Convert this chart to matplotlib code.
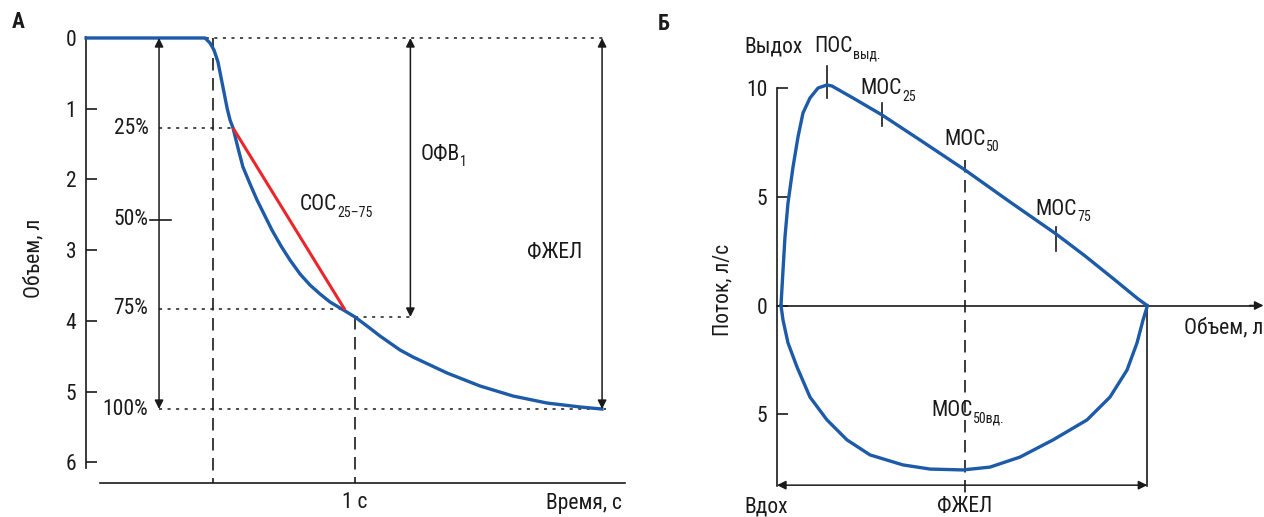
import matplotlib
matplotlib.use("Agg")
import matplotlib.pyplot as plt
from matplotlib import font_manager

# --- font: look for any narrow / condensed sans to stand in for the original face
CONDENSED = ("condensed", "semi-condensed", "extra-condensed", "ultra-condensed")
found = []
for f in font_manager.fontManager.ttflist:
    fn = f.fname.lower()
    if f.stretch in CONDENSED or "condensed" in fn or "narrow" in fn:
        found.append(f)
prefer = ["Roboto", "Liberation", "Noto Sans", "Open Sans", "DejaVu"]
found.sort(key=lambda f: next((i for i, p in enumerate(prefer) if p in f.name), 99))
if found:
    FONT, STRETCH = found[0].name, found[0].stretch
else:
    FONT, STRETCH = "DejaVu Sans", "normal"
plt.rcParams["font.family"] = [FONT, "DejaVu Sans"]
plt.rcParams["font.stretch"] = STRETCH

BLUE = "#1d5aa8"
RED = "#e8262b"
INK = "#1a1a1a"

# --- panel A: volume-time curve (time, s; volume, l)
time_s = [-0.894, -0.056, -0.021, 0.007, 0.035, 0.056, 0.077, 0.099, 0.120, 0.141,
          0.176, 0.211, 0.261, 0.310, 0.366, 0.415, 0.479, 0.542, 0.613, 0.683,
          0.754, 0.824, 0.930, 1.0, 1.085, 1.176, 1.317, 1.408, 1.648, 1.880,
          2.113, 2.352, 2.585, 2.739]
volume_l = [0.0, 0.0, 0.071, 0.170, 0.339, 0.552, 0.764, 0.990, 1.160, 1.273,
            1.556, 1.825, 2.065, 2.291, 2.518, 2.716, 2.942, 3.140, 3.338, 3.494,
            3.621, 3.734, 3.861, 3.946, 4.074, 4.215, 4.413, 4.512, 4.738, 4.922,
            5.064, 5.163, 5.219, 5.248]
fvc_a = 5.248
fev1 = 3.946
pct_levels = [1.273, 2.574, 3.833, 5.248]
pct_labels = ["25%", "50%", "75%", "100%"]
fef_start = (0.141, 1.273)
fef_end = (0.930, 3.847)
vol_ticks = [0, 1, 2, 3, 4, 5, 6]

# --- panel B: flow-volume loop (volume, l; flow, l/s, inspiration negative)
exp_vol = [0.057, 0.086, 0.114, 0.157, 0.229, 0.300, 0.371, 0.471, 0.586, 0.714,
           0.786, 1.086, 1.500, 2.043, 2.686, 3.329, 3.986, 4.400, 4.829, 5.143, 5.286]
exp_flow = [0.0, 1.63, 3.15, 4.71, 6.37, 7.75, 8.85, 9.54, 10.0, 10.14,
            10.09, 9.54, 8.76, 7.61, 6.23, 4.76, 3.29, 2.28, 1.17, 0.34, 0.0]
insp_vol = [5.286, 5.286, 5.229, 5.143, 5.0, 4.757, 4.429, 3.943, 3.471, 3.043,
            2.657, 2.186, 1.800, 1.329, 1.0, 0.714, 0.471, 0.286, 0.157, 0.086, 0.057]
insp_flow = [0.0, -0.07, -0.67, -1.72, -2.97, -4.21, -5.26, -6.18, -6.97, -7.43,
             -7.56, -7.52, -7.33, -6.87, -6.18, -5.26, -4.21, -2.83, -1.72, -0.67, 0.0]
fvc_b = 5.29
pef_vol = 0.714
mef25_vol = 1.50
mef50_vol = 2.686
mef75_vol = 3.986
flow_ticks = [-5, 0, 5, 10]
flow_labels = ["5", "0", "5", "10"]

W, H = 1264, 517
fig = plt.figure(figsize=(W / 100, H / 100), dpi=100)

FS = 15.5
SUB = 10
DOT = (0, (2, 3.6))
DASH = (0, (7.5, 4.5))


def sub_label(ax, x, y, main, sub, ha="left"):
    t = ax.text(x, y, main, fontsize=FS, ha=ha, va="center", color=INK)
    ax.annotate(sub, xy=(1, 0), xycoords=t, xytext=(0.5, -3),
                textcoords="offset points", fontsize=SUB, ha="left",
                va="bottom", color=INK)
    return t


def arrow(ax, x0, y0, x1, y1, style="<|-|>"):
    ax.annotate("", xy=(x1, y1), xytext=(x0, y0),
                arrowprops=dict(arrowstyle=style, lw=1.1, color=INK,
                                mutation_scale=13, shrinkA=0, shrinkB=0))


# ================= panel A =================
axA = fig.add_axes([0, 0, 640 / W, 1])
axA.set_xlim(-213 / 142, (640 - 213) / 142)
axA.set_ylim((517 - 38) / 70.7, -38 / 70.7)
axA.patch.set_alpha(0)
for s in ["top", "right"]:
    axA.spines[s].set_visible(False)
axA.spines["left"].set_position(("data", -0.894))
axA.spines["left"].set_bounds(6.08, -0.02)
axA.spines["bottom"].set_position(("data", 6.29))
axA.spines["bottom"].set_bounds(-0.796, 2.9)
for s in ["left", "bottom"]:
    axA.spines[s].set_linewidth(1.2)
    axA.spines[s].set_color(INK)
axA.set_yticks(vol_ticks)
axA.set_yticklabels([str(v) for v in vol_ticks])
axA.tick_params(axis="y", direction="in", length=8, width=1.2, pad=7,
                labelsize=FS, colors=INK)
axA.set_xticks([1])
axA.set_xticklabels(["1 с"])
axA.tick_params(axis="x", length=0, pad=7, labelsize=FS, colors=INK)

# dotted guides
axA.plot([-0.894, 2.77], [0, 0], ls=DOT, lw=1.1, color=INK)
axA.plot([-0.38, fef_start[0]], [pct_levels[0]] * 2, ls=DOT, lw=1.1, color=INK)
axA.plot([-0.38, fef_end[0]], [pct_levels[2]] * 2, ls=DOT, lw=1.1, color=INK)
axA.plot([-0.38, 2.77], [pct_levels[3]] * 2, ls=DOT, lw=1.1, color=INK)
axA.plot([1.0, 1.42], [fev1, fev1], ls=DOT, lw=1.1, color=INK)
# dashed verticals at start and at 1 s
axA.plot([0, 0], [0, 6.29], ls=DASH, lw=1.2, color=INK)
axA.plot([1, 1], [fev1, 6.29], ls=DASH, lw=1.2, color=INK)

axA.plot(time_s, volume_l, color=BLUE, lw=2.4, solid_joinstyle="round", zorder=3)
axA.plot([fef_start[0], fef_end[0]], [fef_start[1], fef_end[1]], color=RED,
         lw=2.2, solid_capstyle="butt", zorder=4)

# arrows
arrow(axA, -0.38, 0, -0.38, fvc_a)
axA.plot([-0.445, -0.295], [pct_levels[1]] * 2, lw=1.2, color=INK)
arrow(axA, 1.39, 0, 1.39, fev1)
arrow(axA, 2.74, 0, 2.74, fvc_a)

for lv, lb in zip(pct_levels, pct_labels):
    axA.text(-0.455, lv, lb, fontsize=FS, ha="right", va="center", color=INK)

sub_label(axA, 0.61, 2.36, "СОС", "25–75")
sub_label(axA, 1.46, 1.65, "ОФВ", "1")
axA.text(2.21, 3.03, "ФЖЕЛ", fontsize=FS, ha="left", va="center", color=INK)
axA.text(2.88, 6.58, "Время, с", fontsize=FS, ha="right", va="center", color=INK)
axA.text(-1.42, -0.22, "А", fontsize=FS, ha="left", va="center",
         color=INK, fontweight="bold")
axA.set_ylabel("Объем, л", fontsize=FS, color=INK)
axA.yaxis.set_label_coords(44 / 640, 0.5)

# ================= panel B =================
axB = fig.add_axes([640 / W, 0, 624 / W, 1])
axB.set_xlim((640 - 777) / 70, (1264 - 777) / 70)
axB.set_ylim((305.5 - 517) / 21.75, 305.5 / 21.75)
axB.patch.set_alpha(0)
for s in ["top", "right"]:
    axB.spines[s].set_visible(False)
axB.spines["left"].set_position(("data", 0))
axB.spines["left"].set_bounds(-8.3, 10.0)
axB.spines["bottom"].set_position(("data", 0))
axB.spines["bottom"].set_bounds(0, 6.9)
for s in ["left", "bottom"]:
    axB.spines[s].set_linewidth(1.2)
    axB.spines[s].set_color(INK)
axB.set_yticks(flow_ticks)
axB.set_yticklabels(flow_labels)
axB.tick_params(axis="y", direction="in", length=8, width=1.2, pad=7,
                labelsize=FS, colors=INK)
axB.set_xticks([])
arrow(axB, 6.75, 0, 6.95, 0, style="-|>")

axB.plot(exp_vol, exp_flow, color=BLUE, lw=2.4, solid_joinstyle="round", zorder=3)
axB.plot(insp_vol, insp_flow, color=BLUE, lw=2.4, solid_joinstyle="round", zorder=3)

# verticals and markers
axB.plot([fvc_b, fvc_b], [0, -8.3], lw=1.2, color=INK)
axB.plot([mef50_vol, mef50_vol], [6.7, -8.6], ls=DASH, lw=1.2, color=INK)
axB.plot([pef_vol, pef_vol], [11.0, 9.55], lw=1.2, color=INK)
axB.plot([mef25_vol, mef25_vol], [9.3, 8.25], lw=1.2, color=INK)
axB.plot([mef75_vol, mef75_vol], [3.6, 2.5], lw=1.2, color=INK)
arrow(axB, 0, -8.26, fvc_b, -8.26)

axB.text(-0.46, 11.9, "Выдох", fontsize=FS, ha="left", va="center", color=INK)
sub_label(axB, 0.53, 11.9, "ПОС", "выд.")
sub_label(axB, 1.19, 9.96, "МОС", "25")
sub_label(axB, 2.39, 7.65, "МОС", "50")
sub_label(axB, 3.69, 4.4, "МОС", "75")
sub_label(axB, 2.2, -4.85, "МОС", "50вд.")
axB.text(6.95, -1.05, "Объем, л", fontsize=FS, ha="right", va="center", color=INK)
axB.text(-0.46, -9.25, "Вдох", fontsize=FS, ha="left", va="center", color=INK)
axB.text(mef50_vol, -9.25, "ФЖЕЛ", fontsize=FS, ha="center", va="center", color=INK)
axB.text(-1.7, 12.95, "Б", fontsize=FS, ha="left", va="center",
         color=INK, fontweight="bold")
axB.set_ylabel("Поток, л/с", fontsize=FS, color=INK)
axB.yaxis.set_label_coords((733 - 640) / 624, (517 - 290) / 517)

fig.savefig("out.png", dpi=100)
